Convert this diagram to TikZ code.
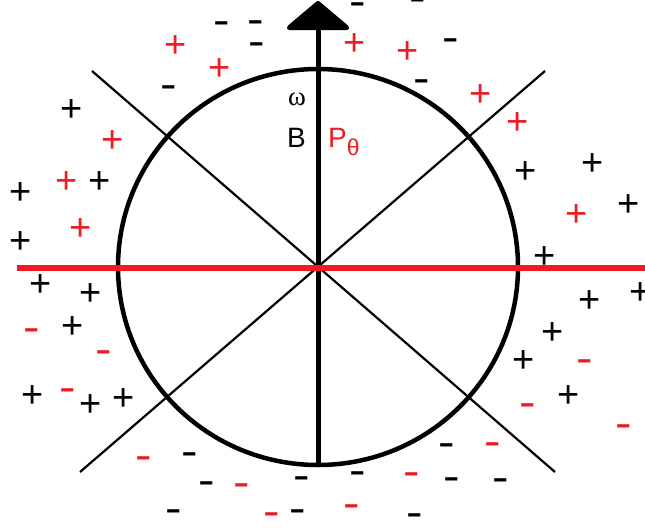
\documentclass[tikz,border=0pt]{standalone}
\usepackage{fontspec}
\setmainfont{Liberation Sans}
\newfontfamily\greekserif{Liberation Serif}
\usetikzlibrary{arrows.meta}
\definecolor{paintred}{RGB}{237,28,36}
\newcommand{\plusfont}{\fontsize{38}{38}\selectfont}
\newcommand{\dashfont}{\fontsize{30}{30}\selectfont}

\begin{document}
\begin{tikzpicture}[x=1pt,y=-1pt,
  possign/.style={font=\plusfont,inner sep=0pt,anchor=base,yshift=-13pt},
  negsign/.style={font=\dashfont,inner sep=0pt,anchor=base,yshift=-8.5pt},
  diag/.style={line width=2.2pt},
  lbl/.style={inner sep=0pt,font=\fontsize{28}{28}\selectfont}]
  \useasboundingbox (0,0) rectangle (645,528);

  % circle and the two slanted lines
  \coordinate (O) at (318,267);
  \draw[line width=4.5pt] (O) circle [x radius=200,y radius=198];
  \coordinate (d1a) at (92,71);  \coordinate (d1b) at (555,472);
  \coordinate (d2a) at (80,472); \coordinate (d2b) at (545,71);
  \draw[diag] (d1a) -- (d1b);
  \draw[diag] (d2a) -- (d2b);

  % field axis
  \coordinate (bot) at (318,465);
  \coordinate (tip) at (318,1);
  \draw[line width=5pt,-{Triangle[width=70pt,length=30pt,round]}] (bot) -- (tip);

  % red horizontal
  \coordinate (hl) at (17,268);
  \coordinate (hr) at (645,268);
  \draw[paintred,line width=5.5pt] (hl) -- (hr);

  % labels
  \node[anchor=base,inner sep=0pt,font=\greekserif\fontsize{27}{27}\selectfont] (w) at (297,105) {ω};
  \node[lbl,anchor=base west] (B) at (287,147) {B};
  \node[lbl,anchor=base west,text=paintred] (P) at (328,147) {P\raisebox{-8pt}{\fontsize{23}{23}\selectfont θ}};

  % plus signs
  \foreach \x/\y/\c [count=\i] in {72/108/black,100/180/black,21/191/black,21/240/black,
      526/170/black,593/162/black,629/203/black,545/255/black,41/283/black,91/292/black,
      73/325/black,33/394/black,91/403/black,124/397/black,641/291/black,590/299/black,
      553/331/black,524/359/black,569/394/black,
      176/44/paintred,220/67/paintred,113/139/paintred,67/180/paintred,81/227/paintred,
      355/42/paintred,408/50/paintred,481/93/paintred,518/121/paintred,577/213/paintred}
    \node[possign,text=\c] (p\i) at (\x,\y) {+};

  % minus signs
  \foreach \x/\y/\c [count=\i] in {222/26/black,256/25/black,257/47/black,169/90/black,
      358/7/black,418/3/black,451/43/black,422/84/black,190/457/black,207/486/black,
      302/481/black,174/514/black,298/514/black,447/448/black,358/476/black,452/482/black,
      501/483/black,415/518/black,
      32/333/paintred,104/355/paintred,68/393/paintred,144/461/paintred,242/488/paintred,
      272/517/paintred,585/364/paintred,528/408/paintred,624/429/paintred,493/447/paintred,
      412/477/paintred,352/509/paintred}
    \node[negsign,text=\c] (m\i) at (\x,\y) {\scalebox{1.65}[1.4]{-}};
\end{tikzpicture}
\end{document}
